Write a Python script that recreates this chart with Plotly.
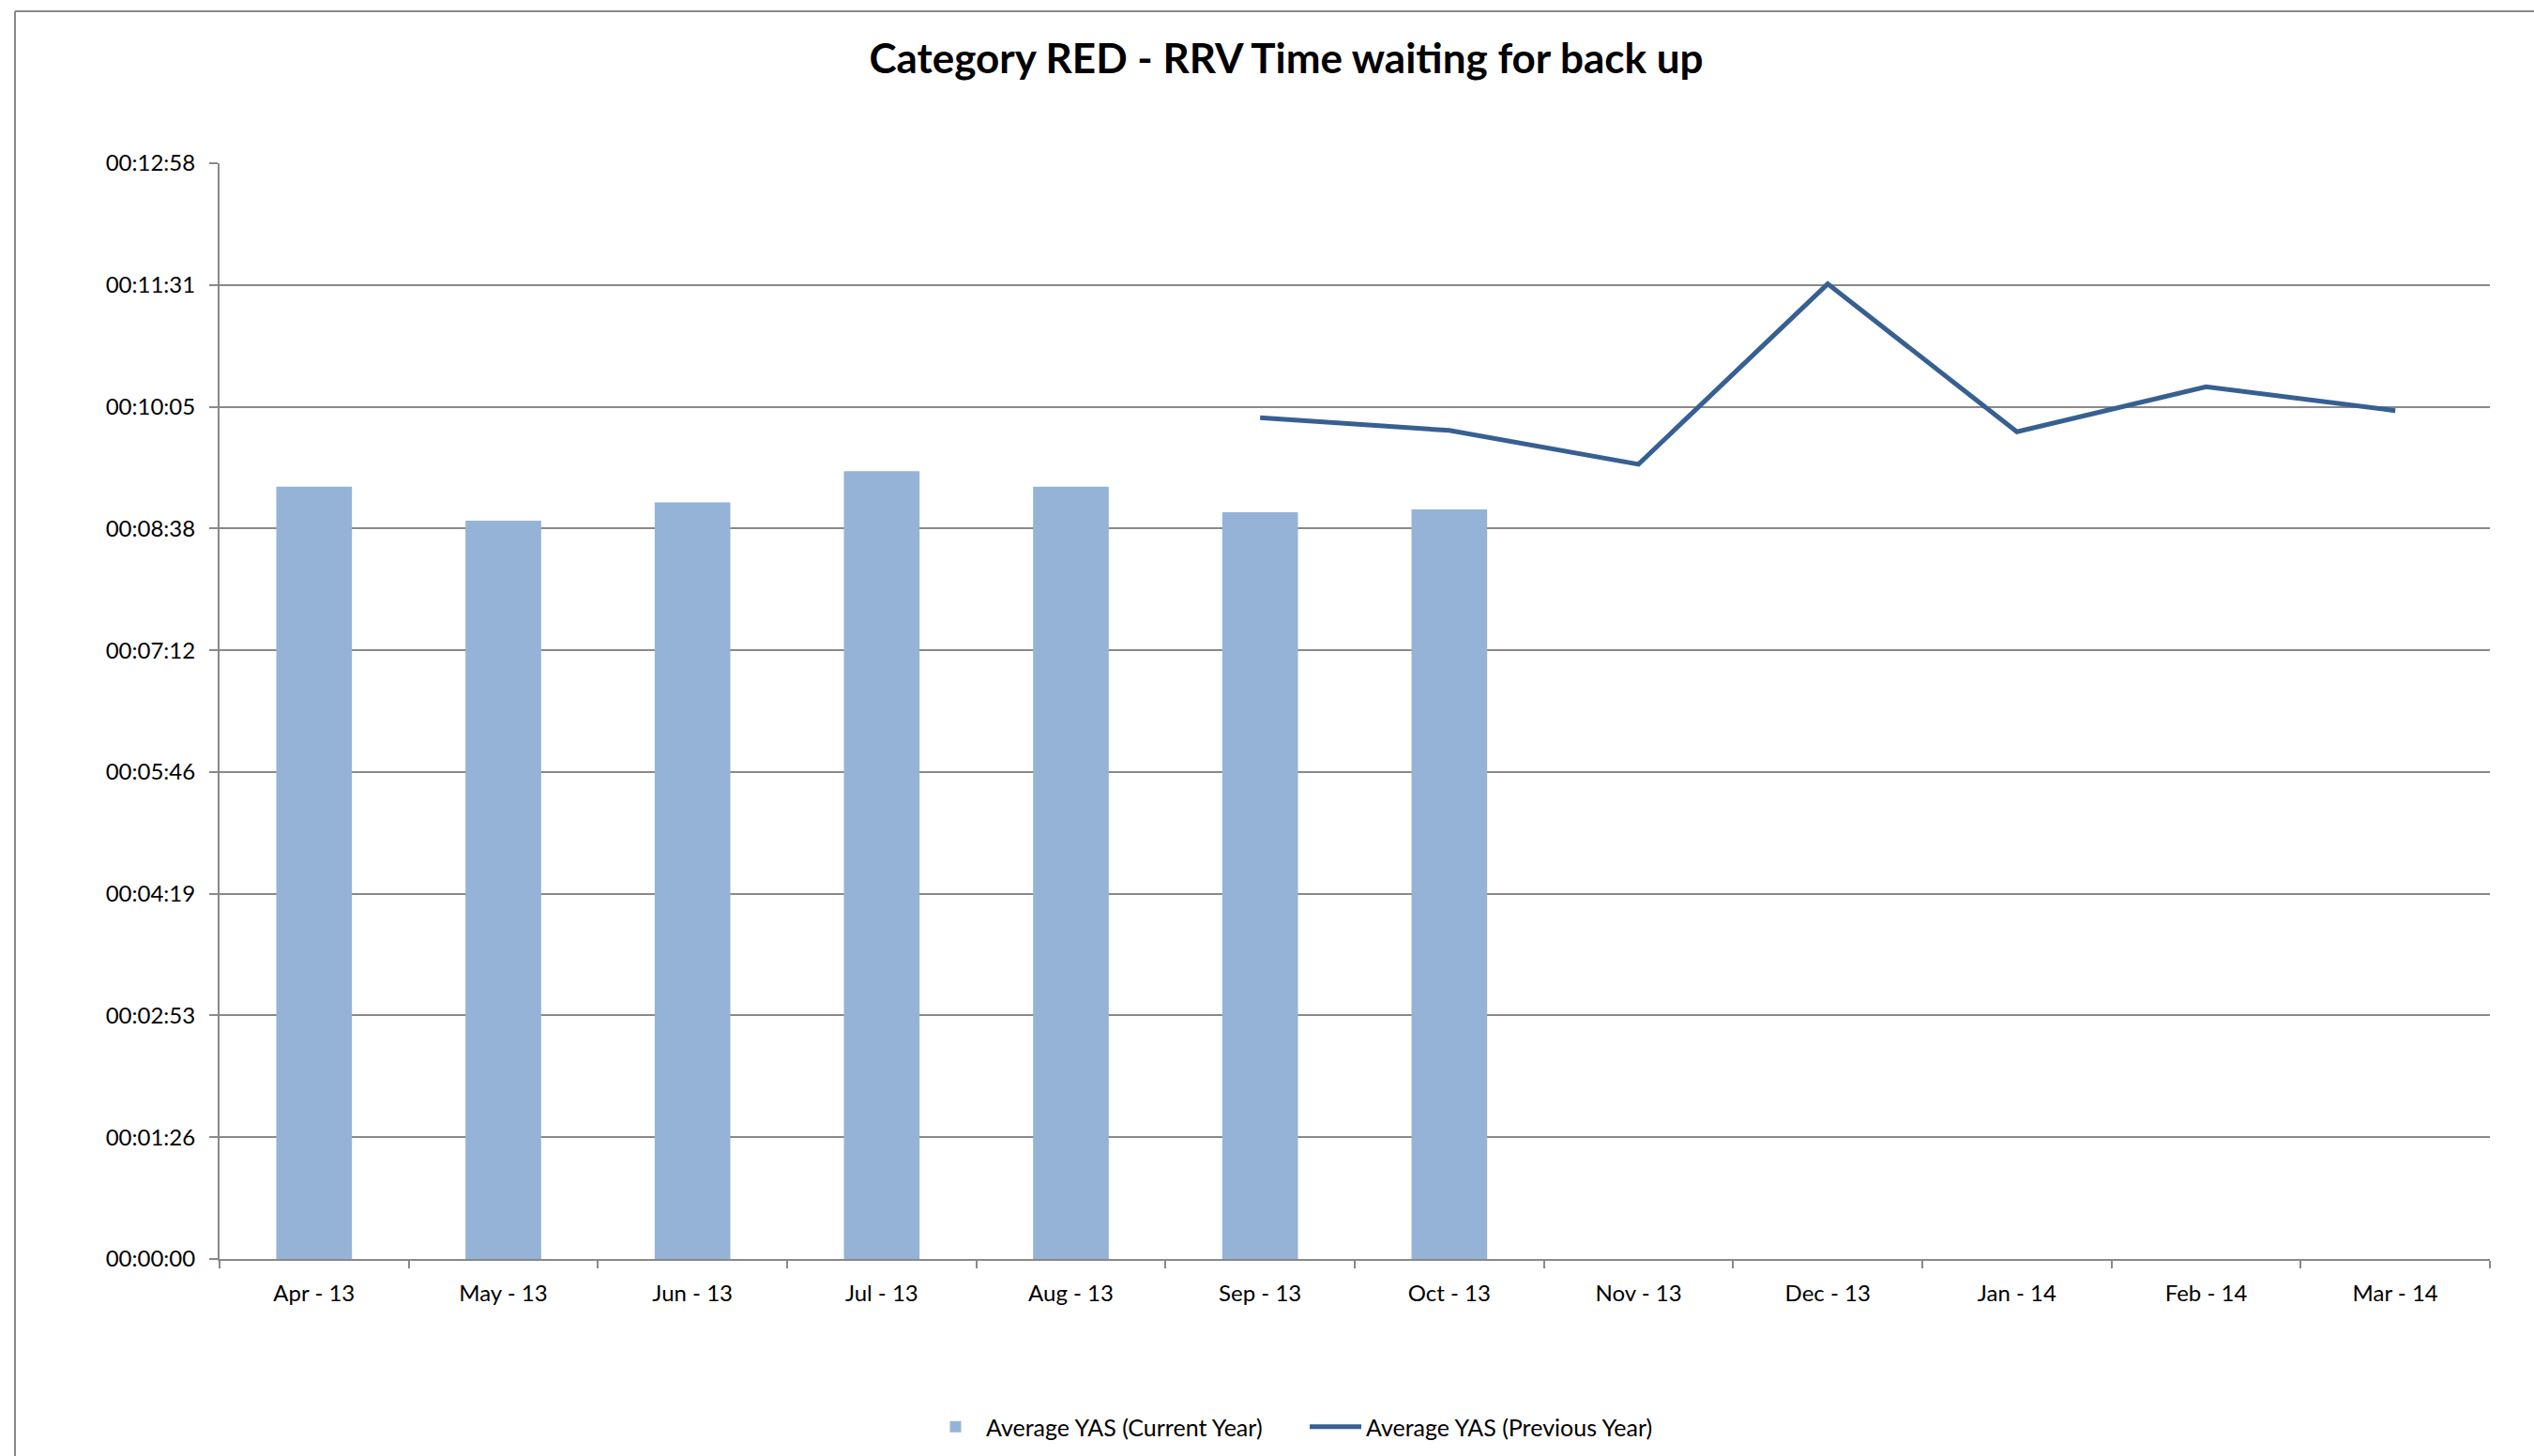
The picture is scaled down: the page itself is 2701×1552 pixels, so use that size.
import plotly.graph_objects as go

# ---- data (values in seconds) ----
months = ["Apr - 13", "May - 13", "Jun - 13", "Jul - 13", "Aug - 13", "Sep - 13",
          "Oct - 13", "Nov - 13", "Dec - 13", "Jan - 14", "Feb - 14", "Mar - 14"]
current_months = ["Apr - 13", "May - 13", "Jun - 13", "Jul - 13", "Aug - 13", "Sep - 13", "Oct - 13"]
current_year = [548, 524, 537, 559, 548, 530, 532]
previous_months = ["Sep - 13", "Oct - 13", "Nov - 13", "Dec - 13", "Jan - 14", "Feb - 14", "Mar - 14"]
previous_year = [597, 588, 564, 692, 587, 619, 602]

y_tick_labels = ["00:00:00", "00:01:26", "00:02:53", "00:04:19", "00:05:46",
                 "00:07:12", "00:08:38", "00:10:05", "00:11:31", "00:12:58"]
y_step = 86.4  # 0.001 day in seconds
y_tick_vals = [i * y_step for i in range(len(y_tick_labels))]

W, H = 2701, 1552
ML, MR, MT, MB = 234, 47, 174, 210
PW = W - ML - MR
PH = H - MT - MB

FONT = "Lato, 'Open Sans', sans-serif"
GRID = "#898989"

fig = go.Figure()
fig.add_trace(go.Bar(
    x=current_months, y=current_year,
    name="Average YAS (Current Year)",
    marker=dict(color="#95B3D7", line=dict(width=0)),
    width=0.4,
))
fig.add_trace(go.Scatter(
    x=previous_months, y=previous_year,
    name="Average YAS (Previous Year)",
    mode="lines",
    line=dict(color="#376092", width=5),
))

fig.update_layout(
    width=W, height=H,
    margin=dict(l=ML, r=MR, t=MT, b=MB, autoexpand=False),
    paper_bgcolor="white", plot_bgcolor="white",
    font=dict(family=FONT, size=24, color="black"),
    title=dict(
        text="<b>Category RED - RRV Time waiting for back up</b>",
        font=dict(family=FONT, size=44, color="black"),
        x=(1371) / W, xanchor="center",
        y=1 - 63 / H, yanchor="middle",
    ),
    showlegend=True,
    legend=dict(
        orientation="h",
        x=(1391 - ML) / PW, xanchor="center",
        y=-(1521 - (MT + PH)) / PH, yanchor="middle",
        font=dict(family=FONT, size=25, color="black"),
        itemwidth=55,
        entrywidth=335, entrywidthmode="pixels",
        bgcolor="rgba(0,0,0,0)",
    ),
    xaxis=dict(
        type="category",
        categoryorder="array", categoryarray=months,
        tickmode="array", tickvals=months, ticktext=months,
        range=[-0.5, len(months) - 0.5],
        showgrid=False,
        showline=True, linecolor=GRID, linewidth=2,
        ticks="outside", ticklen=8, tickcolor=GRID, tickwidth=2,
        tickson="boundaries",
        tickfont=dict(family=FONT, size=24, color="black"),
        ticklabelstandoff=14,
        zeroline=False,
    ),
    yaxis=dict(
        range=[0, y_tick_vals[-1]],
        tickmode="array", tickvals=y_tick_vals, ticktext=y_tick_labels,
        showgrid=True, gridcolor=GRID, gridwidth=2,
        showline=True, linecolor=GRID, linewidth=2,
        ticks="outside", ticklen=9, tickcolor=GRID, tickwidth=2,
        tickfont=dict(family=FONT, size=24, color="black"),
        ticklabelstandoff=10,
        zeroline=False,
    ),
    bargap=0.6,
)

# outer chart border (left and top edges visible)
fig.add_shape(type="line", xref="paper", yref="paper",
              x0=(16 - ML) / PW, x1=(W + 20 - ML) / PW,
              y0=(H - 12 - MB) / PH, y1=(H - 12 - MB) / PH,
              line=dict(color=GRID, width=2))
fig.add_shape(type="line", xref="paper", yref="paper",
              x0=(16 - ML) / PW, x1=(16 - ML) / PW,
              y0=(H - 12 - MB) / PH, y1=-(MB + 20) / PH,
              line=dict(color=GRID, width=2))

fig.write_html("out.html")
